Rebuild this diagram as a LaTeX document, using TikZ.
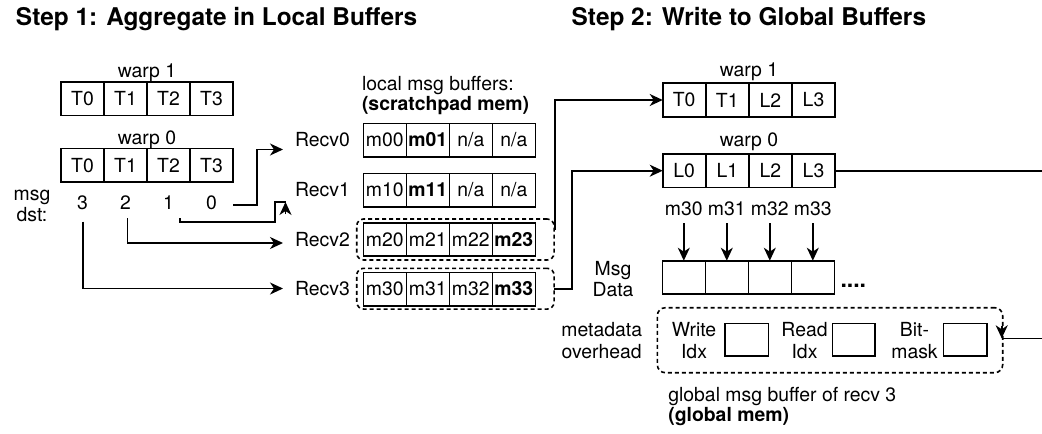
\documentclass[tikz,border=0pt]{standalone}
\usepackage{fontspec}
\setmainfont{TeX Gyre Heros}
\usetikzlibrary{arrows.meta,calc}

\begin{document}
\begin{tikzpicture}[x=0.5pt,y=-0.5pt,
  every node/.style={inner sep=0pt, outer sep=0pt, font=\fontsize{9.7}{11.6}\selectfont},
  cell/.style={draw, line width=0.8pt, minimum width=21.5pt, minimum height=16.7pt, anchor=north west},
  lbl/.style={anchor=base},
  lblw/.style={anchor=base west},
  ttl/.style={anchor=base west, font=\fontsize{12.2}{14}\selectfont\bfseries},
  wire/.style={line width=0.8pt},
  arr/.style={wire, -{Stealth[length=6.5pt,width=6pt,inset=2pt]}},
  grp/.style={draw, line width=0.8pt, dash pattern=on 2pt off 1.5pt, rounded corners=3.5pt, anchor=north west},
]
\useasboundingbox (0,0) rectangle (1042,433);
\clip (0,0) rectangle (1042,433);

% titles
\node[ttl] (t1) at (16,26) {Step 1: Aggregate in Local Buffers};
\node[ttl] (t2) at (571.7,26) {Step 2: Write to Global Buffers};

% ---------- step 1: threads of the two warps ----------
\node[lbl] (lw1lab) at (147,78) {warp 1};
\foreach \t [count=\i from 0] in {T0,T1,T2,T3}
  \node[cell] (lw1-\i) at (61+43*\i,82) {\t};
\node[lbl] (lw0lab) at (147,144.5) {warp 0};
\foreach \t [count=\i from 0] in {T0,T1,T2,T3}
  \node[cell] (lw0-\i) at (61+43*\i,148.5) {\t};

\node[lbl] (msg) at (32,200) {msg};
\node[lbl] (dst) at (32,221.5) {dst:};
\node[lbl] (d3) at (82.5,209.5) {3};
\node[lbl] (d2) at (125.5,209.5) {2};
\node[lbl] (d1) at (168.5,209.5) {1};
\node[lbl] (d0) at (211.5,209.5) {0};

% receivers
\node[lblw] (r0) at (295,146.5) {Recv0};
\node[lblw] (r1) at (295,196.5) {Recv1};
\node[lblw] (r2) at (295,246) {Recv2};
\node[lblw] (r3) at (295,295.5) {Recv3};

% local message buffers
\node[lblw] (lmb) at (362,90.7) {local msg buffers:};
\node[lblw] (spm) at (362,111) {\textbf{(scratchpad mem)}};
\foreach \t [count=\i from 0] in {m00,\textbf{m01},n/a,n/a}
  \node[cell] (b0-\i) at (363.3+43*\i,123.3) {\t};
\foreach \t [count=\i from 0] in {m10,\textbf{m11},n/a,n/a}
  \node[cell] (b1-\i) at (363.3+43*\i,173.3) {\t};
\foreach \t [count=\i from 0] in {m20,m21,m22,\textbf{m23}}
  \node[cell] (b2-\i) at (363.3+43*\i,222.7) {\t};
\foreach \t [count=\i from 0] in {m30,m31,m32,\textbf{m33}}
  \node[cell] (b3-\i) at (363.3+43*\i,272.3) {\t};
\node[grp, minimum width=98.7pt, minimum height=20.5pt] (g2) at (356.7,219) {};
\node[grp, minimum width=98.7pt, minimum height=20.4pt] (g3) at (356.7,268.3) {};

% destinations to receivers
\draw[arr] ($(d0.base)+(21.5,-4.5)$) -| (257,149.5) -- ($(r0.base west)+(-12,3)$);
\draw[wire] ($(d1.base)+(11.5,8.5)$) |- (275,222) |- (285.5,202);
\draw[arr] (285.5,214) -- (285.5,202);
\draw[arr] ($(d2.base)+(2,8.5)$) |- ($(r2.base west)+(-12,-3)$);
\draw[arr] ($(d3.base)+(0.5,12)$) |- ($(r3.base west)+(-12,-7)$);

% ---------- step 2: write to global buffers ----------
\node[lbl] (rw1lab) at (749,76) {warp 1};
\foreach \t [count=\i from 0] in {T0,T1,L2,L3}
  \node[cell] (rw1-\i) at (662.7+43.1*\i,83.3) {\t};
\node[lbl] (rw0lab) at (749,146.7) {warp 0};
\foreach \t [count=\i from 0] in {L0,L1,L2,L3}
  \node[cell] (rw0-\i) at (662.7+43.1*\i,154) {\t};

\draw[arr] ($(g2.north east)+(1,11)$) |- (rw1-0.west);
\draw[arr] (g3.east) -| ($(rw0-0.west)+(-91,0)$) -- (rw0-0.west);

% message data
\node[lbl] (mlab0) at (683.8,215) {m30};
\node[lbl] (mlab1) at (726.8,215) {m31};
\node[lbl] (mlab2) at (769.8,215) {m32};
\node[lbl] (mlab3) at (812.8,215) {m33};
\foreach \i in {0,...,3}
  \node[cell] (md-\i) at (662.3+43*\i,260.7) {};
\foreach \i in {0,...,3}
  \draw[arr] ($(mlab\i.base)+(0,8.3)$) -- (md-\i.north);
\node[lbl] (msgl) at (613,275) {Msg};
\node[lbl] (datal) at (613,296.7) {Data};
\node[lblw, font=\fontsize{11.5}{13}\selectfont\bfseries] (dots) at (840.5,287.5) {....};

% metadata
\node[grp, minimum width=172.7pt, minimum height=32.5pt, rounded corners=4pt] (meta) at (657.3,307.7) {};
\node[lbl] (mo1) at (601.7,336) {metadata};
\node[lbl] (mo2) at (601.7,358) {overhead};
\node[lbl] (wi1) at (694,336) {Write};
\node[lbl] (wi2) at (694,358) {Idx};
\node[lbl] (ri1) at (804.5,336) {Read};
\node[lbl] (ri2) at (804.5,358) {Idx};
\node[lbl] (bm1) at (914.5,336) {Bit-};
\node[lbl] (bm2) at (914.5,358) {mask};
\node[cell, minimum width=21.65pt, minimum height=16.35pt] (wbox) at (725,323.3) {};
\node[cell, minimum width=21.35pt, minimum height=16.35pt] (rbox) at (832.3,323.3) {};
\node[cell, minimum width=21.7pt, minimum height=16.35pt] (bbox) at (943.3,323.3) {};

\draw[wire] (rw0-3.east) -| (1050,338.3) -- (1001.7,338.3);
\draw[arr] (1001.7,326) -- (1001.7,338.3);

\node[lblw] (gmb) at (668.3,401) {global msg buffer of recv 3};
\node[lblw] (gm) at (668.3,421.5) {\textbf{(global mem)}};
\end{tikzpicture}
\end{document}
